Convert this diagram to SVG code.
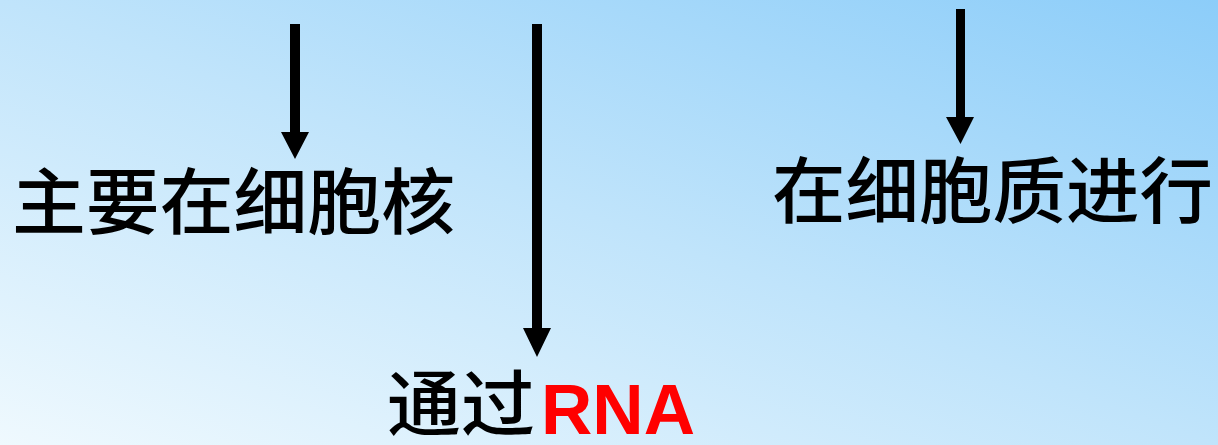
<svg xmlns="http://www.w3.org/2000/svg" width="1218" height="445" viewBox="0 0 1218 445">
<defs>
<linearGradient id="bg" x1="0" y1="1" x2="1" y2="0">
<stop offset="0" stop-color="#eff9fe"/>
<stop offset="0.5" stop-color="#c0e4fb"/>
<stop offset="1" stop-color="#8ccdf9"/>
</linearGradient>
<style>
.cjk{font-family:"Noto Sans CJK SC","Noto Sans CJK JP",sans-serif;font-size:72px;fill:#000;font-weight:500}
.lat{font-family:"Liberation Sans",Arial,sans-serif;font-weight:bold;font-size:71px;fill:#ff0000}
.shaft{fill:#000}
</style>
</defs>
<rect width="1218" height="445" fill="url(#bg)"/>
<g id="connectors">
<path class="shaft" d="M290,24 H300 V132 H309 L295,159 L281,132 H290 Z"/>
<path class="shaft" d="M532,24 H542 V328 H551 L537,357 L523,328 H532 Z"/>
<path class="shaft" d="M956,9 H965 V117 H974 L960.5,144 L946,117 H956 Z"/>
</g>
<g id="node-nucleus">
<text class="cjk" x="12" y="228" textLength="443" lengthAdjust="spacingAndGlyphs">主要在细胞核</text>
</g>
<g id="node-cytoplasm">
<text class="cjk" x="772" y="217" textLength="441" lengthAdjust="spacingAndGlyphs">在细胞质进行</text>
</g>
<g id="node-rna">
<text class="cjk" x="387" y="430" textLength="148" lengthAdjust="spacingAndGlyphs">通过</text>
<text class="lat" x="541" y="434" textLength="154" lengthAdjust="spacingAndGlyphs">RNA</text>
</g>
</svg>
